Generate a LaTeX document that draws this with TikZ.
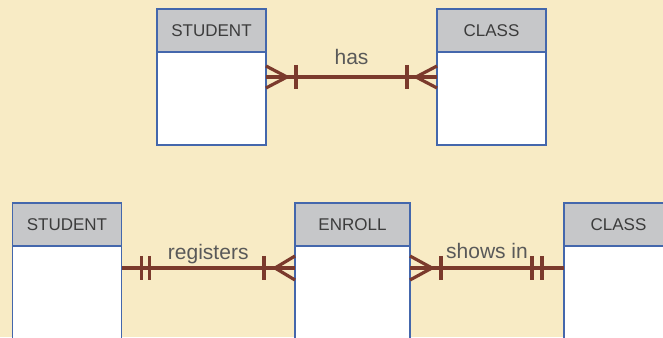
\documentclass[tikz,border=0pt]{standalone}
\usepackage{fontspec}
\setmainfont{Liberation Sans}
\usepackage{tikz}
\usetikzlibrary{calc, positioning}
\definecolor{paper}{HTML}{F8EBC5}
\definecolor{hdrgray}{HTML}{C6C7C9}
\definecolor{boxblue}{HTML}{4467AC}
\definecolor{relbrown}{HTML}{7B3A2C}
\definecolor{txtgray}{HTML}{3C3C3C}
\tikzset{
    ent/.style={draw=boxblue, line width=1.6pt, fill=hdrgray, minimum width=109pt, minimum height=43pt, inner sep=0pt, outer sep=0pt, text=txtgray, font=\fontsize{17}{19}\selectfont},% header of an entity box
    entbody/.style={draw=boxblue, line width=1.6pt, fill=white, minimum width=109pt, minimum height=93pt, inner sep=0pt, outer sep=0pt},
    rel/.style={draw=relbrown, line width=3.2pt},
    lbl/.style={text=txtgray!85, font=\fontsize{21}{23}\selectfont, inner sep=0pt, anchor=base},
}

\begin{document}
\begin{tikzpicture}[x=1pt, y=1pt]
    \fill[paper] (0,0) rectangle (663,337);
    \clip (0,0) rectangle (663,337);
    % top row
    \node[ent] (stud1) at (211.5,306.5) {STUDENT};
    \node[entbody, below=0pt of stud1] (stud1b) {};
    \node[ent] (class1) at (491.5,306.5) {CLASS};
    \node[entbody, below=0pt of class1] (class1b) {};
    \coordinate (h1) at ($(stud1b.north east)+(0,-25)$);
    \coordinate (h2) at ($(class1b.north west)+(0,-25)$);
    \draw[rel] (h1) -- node[lbl, yshift=12pt] {has} (h2);
    \draw[rel] ($(h1)+(0,11)$) -- ($(h1)+(21,0)$) -- ($(h1)+(0,-11)$);
    \draw[rel] ($(h1)+(30,12)$) -- ($(h1)+(30,-12)$);
    \draw[rel] ($(h2)+(0,11)$) -- ($(h2)+(-21,0)$) -- ($(h2)+(0,-11)$);
    \draw[rel] ($(h2)+(-30,12)$) -- ($(h2)+(-30,-12)$);
    % bottom row
    \node[ent] (stud2) at (67,112.5) {STUDENT};
    \node[entbody, below=0pt of stud2] (stud2b) {};
    \node[ent, minimum width=115pt] (enroll) at (352.5,112.5) {ENROLL};
    \node[entbody, minimum width=115pt, below=0pt of enroll] (enrollb) {};
    \node[ent] (class2) at (618.5,112.5) {CLASS};
    \node[entbody, below=0pt of class2] (class2b) {};
    \coordinate (r1) at ($(stud2b.north east)+(0,-22)$);
    \coordinate (r2) at ($(enrollb.north west)+(0,-22)$);
    \coordinate (s1) at ($(enrollb.north east)+(0,-22)$);
    \coordinate (s2) at ($(class2b.north west)+(0,-22)$);
    \draw[rel] (r1) -- node[lbl, yshift=8pt] {registers} (r2);
    \draw[rel] ($(r1)+(20,12)$) -- ($(r1)+(20,-12)$);
    \draw[rel] ($(r1)+(28,12)$) -- ($(r1)+(28,-12)$);
    \draw[rel] ($(r2)+(0,12)$) -- ($(r2)+(-20,0)$) -- ($(r2)+(0,-12)$);
    \draw[rel] ($(r2)+(-31,12)$) -- ($(r2)+(-31,-12)$);
    \draw[rel] (s1) -- node[lbl, yshift=9pt] {shows in} (s2);
    \draw[rel] ($(s1)+(0,12)$) -- ($(s1)+(22,0)$) -- ($(s1)+(0,-12)$);
    \draw[rel] ($(s1)+(31,12)$) -- ($(s1)+(31,-12)$);
    \draw[rel] ($(s2)+(-32,12)$) -- ($(s2)+(-32,-12)$);
    \draw[rel] ($(s2)+(-22,12)$) -- ($(s2)+(-22,-12)$);
\end{tikzpicture}
\end{document}
